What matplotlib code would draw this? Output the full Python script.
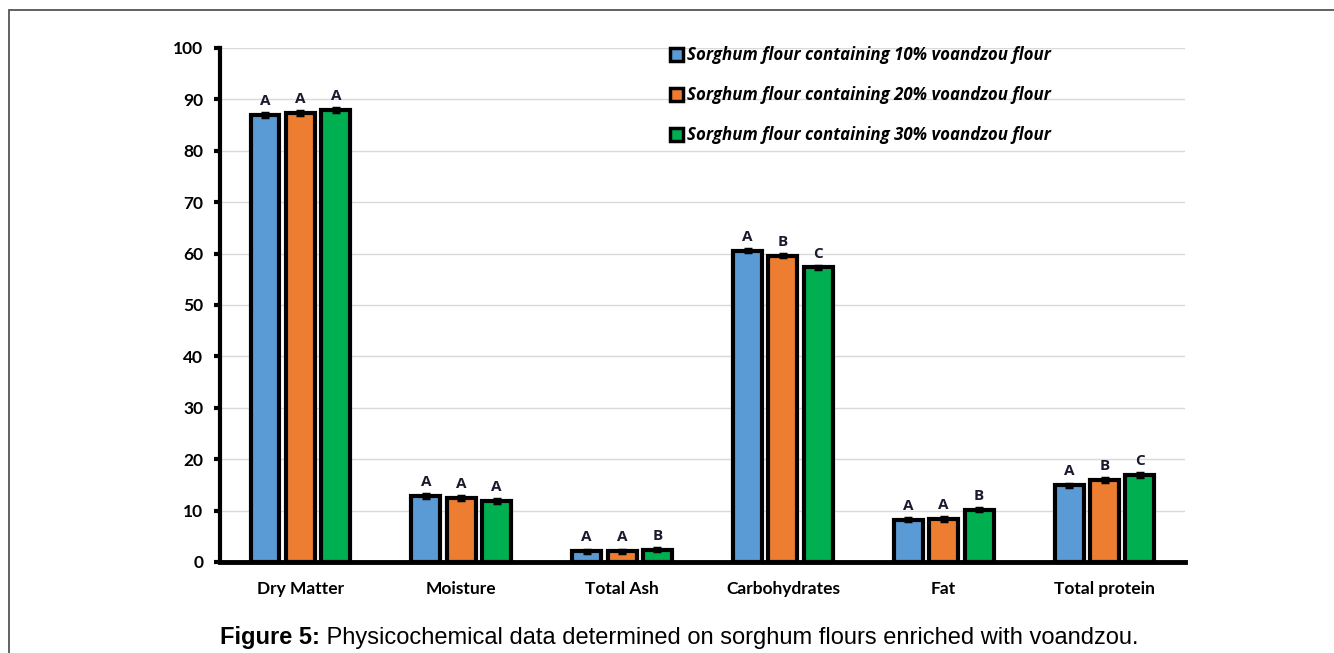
import matplotlib

matplotlib.use("Agg", force=True)
import matplotlib.pyplot as plt
import numpy as np
from matplotlib.patches import Rectangle

categories = ["Dry Matter", "Moisture", "Total Ash", "Carbohydrates", "Fat", "Total protein"]
series_names = [
    "Sorghum flour containing 10% voandzou flour",
    "Sorghum flour containing 20% voandzou flour",
    "Sorghum flour containing 30% voandzou flour",
]
vals_10 = [87.0, 12.8, 2.1, 60.6, 8.2, 14.9]
vals_20 = [87.4, 12.4, 2.1, 59.6, 8.4, 15.9]
vals_30 = [87.9, 11.8, 2.4, 57.3, 10.2, 17.0]
errs_10 = [0.4, 0.4, 0.3, 0.3, 0.3, 0.3]
errs_20 = [0.4, 0.4, 0.3, 0.3, 0.4, 0.4]
errs_30 = [0.4, 0.4, 0.3, 0.3, 0.3, 0.4]
letters_10 = ["A", "A", "A", "A", "A", "A"]
letters_20 = ["A", "A", "A", "B", "A", "B"]
letters_30 = ["A", "A", "B", "C", "B", "C"]
colors = ["#5B9BD5", "#ED7D31", "#00B050"]
caption_bold = "Figure 5:"
caption_text = " Physicochemical data determined on sorghum flours enriched with voandzou."

fig = plt.figure(figsize=(13.34, 6.53), dpi=100)
ax = fig.add_axes([0.1649, 0.1394, 0.7234, 0.7871])

# outer frame
fig.patches.append(Rectangle((9 / 1334, -0.1), 1.2, 1 - 10 / 653 + 0.1,
                             transform=fig.transFigure, fill=False,
                             edgecolor="#555555", linewidth=1.3))

x = np.arange(len(categories))
width = 0.18
step = 0.22
all_vals = [vals_10, vals_20, vals_30]
all_errs = [errs_10, errs_20, errs_30]
all_letters = [letters_10, letters_20, letters_30]

for i, (vals, errs, letters) in enumerate(zip(all_vals, all_errs, all_letters)):
    pos = x + (i - 1) * step
    ax.bar(pos, vals, width=width, color=colors[i], edgecolor="black",
           linewidth=3, label=series_names[i], zorder=3)
    ax.errorbar(pos, vals, yerr=errs, fmt="none", ecolor="black",
                elinewidth=2, capsize=3, capthick=2.5, zorder=4)
    for p, v, lt in zip(pos, vals, letters):
        ax.annotate(lt, (p, v), xytext=(0, 5), textcoords="offset points",
                    ha="center", va="bottom", fontsize=11, fontweight="bold",
                    family="Open Sans", color="#1a1a2e")

ax.set_xlim(-0.5, len(categories) - 0.5)
ax.set_ylim(0, 100)
ax.set_yticks(np.arange(0, 101, 10))
ax.set_xticks(x)
ax.set_xticklabels(categories)
ax.grid(True, axis="y", color="#d9d9d9", linewidth=1, zorder=0)
ax.set_axisbelow(True)

for side in ["top", "right"]:
    ax.spines[side].set_visible(False)
ax.spines["left"].set_linewidth(3)
ax.spines["bottom"].set_linewidth(3.5)
ax.tick_params(axis="y", length=4, width=3, pad=8)
ax.tick_params(axis="x", length=0, pad=14)
for lab in ax.get_xticklabels() + ax.get_yticklabels():
    lab.set_fontfamily("Lato")
    lab.set_fontweight("bold")
    lab.set_fontsize(12.5)

leg = ax.legend(loc="upper left", bbox_to_anchor=(0.459, 1.017), frameon=False,
                handlelength=0.8, handleheight=0.8, handletextpad=0.25,
                labelspacing=1.3, borderaxespad=0,
                prop={"family": "Open Sans", "weight": "bold", "style": "italic", "size": 12.2})
for h in leg.legend_handles:
    h.set_linewidth(2.5)

fig.text(0.5, 0.014, caption_bold, ha="right", va="baseline",
         fontsize=17, fontweight="bold", family="Liberation Sans")
t = fig.text(0.5, 0.014, caption_text, ha="left", va="baseline",
             fontsize=17, family="Liberation Sans")

# center the combined caption
fig.canvas.draw()
r = fig.canvas.get_renderer()
b1 = fig.texts[0].get_window_extent(r)
b2 = t.get_window_extent(r)
total = b1.width + b2.width
start = (679 - total / 2) / 1334
fig.texts[0].set_ha("left")
fig.texts[0].set_x(start)
t.set_x(start + b1.width / 1334)

fig.savefig("out.png", dpi=100)
